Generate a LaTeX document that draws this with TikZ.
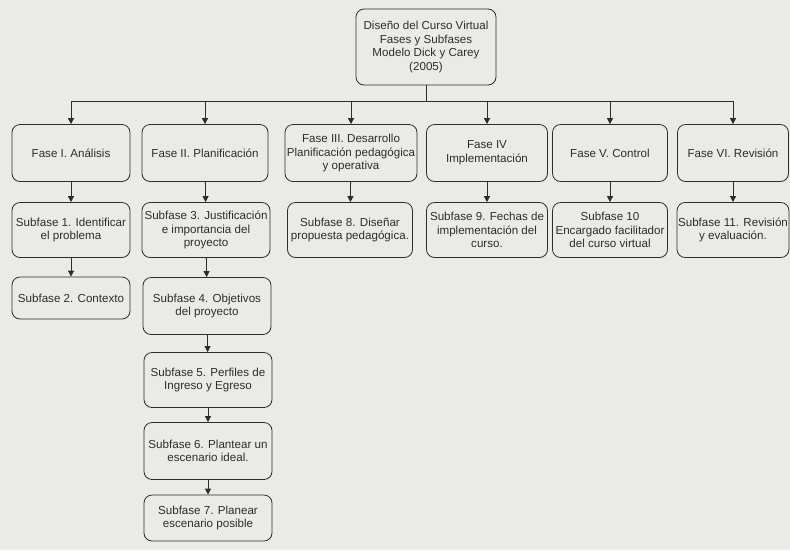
\documentclass[tikz,border=0pt]{standalone}
\usepackage{fontspec}
\setmainfont{Liberation Sans}
\usepackage{tikz}
\usetikzlibrary{arrows.meta}
\definecolor{paper}{RGB}{234,234,231}
\definecolor{ink}{RGB}{45,45,45}

\begin{document}
\begin{tikzpicture}[x=1pt,y=-1pt,
				every node/.style={font=\fontsize{11.6}{13.6}\selectfont,text=ink},
				box/.style={draw=ink,line width=.8pt,rounded corners=8pt,align=center,inner sep=1pt},
				arr/.style={draw=ink,line width=.8pt,-{Triangle[width=6pt,length=6pt]}}]
				\fill[paper] (0,0) rectangle (790,550);
				\useasboundingbox (0,0) rectangle (790,550);
				
				\node[box,minimum width=140,minimum height=76] (top) at (426,47)
				{Diseño del Curso Virtual\\Fases y Subfases\\Modelo Dick y Carey\\(2005)};
				
				\node[box,minimum width=118,minimum height=57] (f1) at (71,153) {Fase I. Análisis};
				\node[box,minimum width=126,minimum height=57] (f2) at (205,153) {Fase II. Planificación};
				\node[box,minimum width=132,minimum height=57] (f3) at (351,153) {Fase III. Desarrollo\\Planificación pedagógica\\y operativa};
				\node[box,minimum width=121,minimum height=57] (f4) at (487,153) {Fase IV\\Implementación};
				\node[box,minimum width=115,minimum height=57] (f5) at (610,153) {Fase V. Control};
				\node[box,minimum width=111,minimum height=57] (f6) at (733,153) {Fase VI. Revisión};
				
				\node[box,minimum width=118,minimum height=55] (s1) at (71,230) {Subfase 1. Identificar\\el problema};
				\node[box,minimum width=118,minimum height=42] (s2) at (71,298) {Subfase 2. Contexto};
				\node[box,minimum width=128,minimum height=55] (s3) at (206,230) {Subfase 3. Justificación\\e importancia del\\proyecto};
				\node[box,minimum width=128,minimum height=57] (s4) at (207,306) {Subfase 4. Objetivos\\del proyecto};
				\node[box,minimum width=128,minimum height=55] (s5) at (208,380) {Subfase 5. Perfiles de\\Ingreso y Egreso};
				\node[box,minimum width=128,minimum height=57] (s6) at (208,451) {Subfase 6. Plantear un\\escenario ideal.};
				\node[box,minimum width=128,minimum height=46] (s7) at (208,518) {Subfase 7. Planear\\escenario posible};
				\node[box,minimum width=125,minimum height=55] (s8) at (350,230) {Subfase 8. Diseñar\\propuesta pedagógica.};
				\node[box,minimum width=121,minimum height=55] (s9) at (487,230) {Subfase 9. Fechas de\\implementación del\\curso.};
				\node[box,minimum width=115,minimum height=55] (s10) at (610,230) {Subfase 10\\Encargado facilitador\\del curso virtual};
				\node[box,minimum width=111,minimum height=55] (s11) at (733,230) {Subfase 11. Revisión\\y evaluación.};
				
				\coordinate (bus) at (426,101);
				\draw[draw=ink,line width=.8pt] (top.south) -- (bus);
				\foreach \f in {f1,f2,f3,f4,f5,f6}
				\draw[arr] (bus) -| (\f.north);
				
				\foreach \a/\b in {f1/s1,s1/s2,f2/s3,s3/s4,s4/s5,s5/s6,s6/s7,f3/s8,f4/s9,f5/s10,f6/s11}
				\draw[arr] (\a) -- (\b);
			\end{tikzpicture}
\end{document}
